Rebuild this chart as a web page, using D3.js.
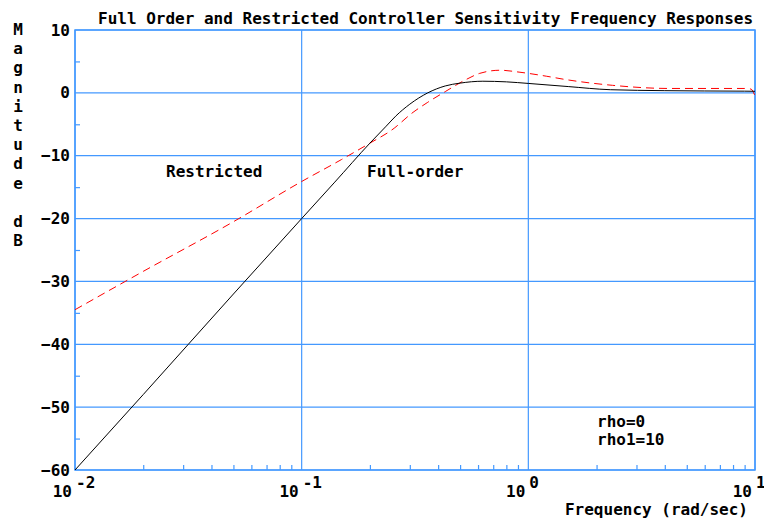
<!DOCTYPE html>
<html>
<head>
<meta charset="utf-8">
<script src="https://cdn.jsdelivr.net/npm/d3@7"></script>
<style>
body { margin: 0; background: #fff; }
text { font-family: "DejaVu Sans Mono", "Liberation Mono", monospace; font-weight: bold; font-size: 16px; fill: #000; }
</style>
</head>
<body>
<script>
// values
var freq = [0.01, 0.02, 0.05, 0.1, 0.14, 0.2, 0.236, 0.26, 0.3, 0.36, 0.43, 0.5, 0.63, 0.8, 1, 1.5, 2.3, 4, 6, 9, 10];
var fullOrder = [-60, -48, -32, -20, -14.2, -8.0, -5.3, -3.7, -1.8, 0, 1.1, 1.55, 1.85, 1.75, 1.5, 1.0, 0.5, 0.35, 0.3, 0.27, 0.25];

var freqR = [0.01, 0.02, 0.05, 0.1, 0.15, 0.2, 0.25, 0.31, 0.36, 0.43, 0.53, 0.61, 0.75, 0.91, 1, 1.2, 1.47, 2.35, 4.2, 9, 9.6, 10];
var restricted = [-34.5, -28.4, -20.5, -14.1, -10.6, -8.0, -5.9, -3.1, -1.5, 0.2, 2.1, 3.1, 3.6, 3.3, 3.1, 2.65, 2.1, 1.2, 0.7, 0.7, 0.6, -0.5];

var yTicks = [10, 0, -10, -20, -30, -40, -50, -60];
var yMinor = [5, -5, -15, -25, -35, -45, -55];
var xDecades = [0.01, 0.1, 1, 10];
var xExp = ["-2", "-1", "0", "1"];
var xMinor = [0.02, 0.03, 0.04, 0.05, 0.06, 0.07, 0.08, 0.09,
              0.2, 0.3, 0.4, 0.5, 0.6, 0.7, 0.8, 0.9,
              2, 3, 4, 5, 6, 7, 8, 9];
var yLabel = ["M", "a", "g", "n", "i", "t", "u", "d", "e", "", "d", "B"];

var width = 764, height = 523;
var plot = {left: 75, right: 755, top: 30, bottom: 470};
var gridColor = "#4499ff";

var svg = d3.select("body").append("svg")
    .attr("width", width)
    .attr("height", height);

var x = d3.scaleLog().domain([0.01, 10]).range([plot.left, plot.right]);
var y = d3.scaleLinear().domain([-60, 10]).range([plot.bottom, plot.top]);

// grid
svg.selectAll(".hgrid")
    .data(yTicks)
  .enter().append("line")
    .attr("class", "hgrid")
    .attr("x1", plot.left).attr("x2", plot.right)
    .attr("y1", function(d) { return y(d); })
    .attr("y2", function(d) { return y(d); })
    .attr("stroke", gridColor)
    .attr("stroke-width", 1.2);

svg.selectAll(".vgrid")
    .data(xDecades)
  .enter().append("line")
    .attr("class", "vgrid")
    .attr("x1", function(d) { return x(d); })
    .attr("x2", function(d) { return x(d); })
    .attr("y1", plot.top).attr("y2", plot.bottom)
    .attr("stroke", gridColor)
    .attr("stroke-width", 1.2);

svg.append("rect")
    .attr("x", plot.left).attr("y", plot.top)
    .attr("width", plot.right - plot.left).attr("height", plot.bottom - plot.top)
    .attr("fill", "none")
    .attr("stroke", gridColor)
    .attr("stroke-width", 1.5);

// minor ticks, pointing into the plot
var xAxis = d3.axisBottom(x).tickValues(xMinor).tickSize(-5).tickFormat("");
svg.append("g")
    .attr("transform", "translate(0," + plot.bottom + ")")
    .call(xAxis)
    .call(function(g) { g.select(".domain").remove(); })
    .selectAll("line").attr("stroke", gridColor).attr("stroke-width", 1.2);

var yAxisMinor = d3.axisLeft(y).tickValues(yMinor).tickSize(-5).tickFormat("");
svg.append("g")
    .attr("transform", "translate(" + plot.left + ",0)")
    .call(yAxisMinor)
    .call(function(g) { g.select(".domain").remove(); })
    .selectAll("line").attr("stroke", gridColor).attr("stroke-width", 1.2);

// y tick labels
var yAxis = d3.axisLeft(y).tickValues(yTicks).tickSize(0).tickPadding(5)
    .tickFormat(function(d) { return d < 0 ? "\u2212" + Math.abs(d) : d; });
svg.append("g")
    .attr("transform", "translate(" + plot.left + ",0)")
    .call(yAxis)
    .call(function(g) { g.select(".domain").remove(); })
    .selectAll("text")
    .attr("font-family", null).attr("font-size", null)
    .style("fill", "#000");

// x tick labels: 10 with exponent
var xl = svg.selectAll(".xlab")
    .data(xDecades)
  .enter().append("g")
    .attr("class", "xlab");
xl.append("text")
    .attr("x", function(d) { return x(d) - 3; })
    .attr("y", 497)
    .style("text-anchor", "end")
    .text("10");
xl.append("text")
    .attr("x", function(d) { return x(d) + 1; })
    .attr("y", 488)
    .style("text-anchor", "start")
    .text(function(d, i) { return xExp[i]; });

// curves
var line = d3.line()
    .curve(d3.curveMonotoneX)
    .x(function(d) { return x(d[0]); })
    .y(function(d) { return y(d[1]); });

svg.append("path")
    .datum(d3.zip(freqR, restricted))
    .attr("d", line)
    .attr("fill", "none")
    .attr("stroke", "#ff0000")
    .attr("stroke-width", 1)
    .attr("stroke-dasharray", "8,5");

svg.append("path")
    .datum(d3.zip(freq, fullOrder))
    .attr("d", line)
    .attr("fill", "none")
    .attr("stroke", "#000")
    .attr("stroke-width", 1);

// texts
svg.append("text")
    .attr("x", 98).attr("y", 24)
    .text("Full Order and Restricted Controller Sensitivity Frequency Responses");

svg.selectAll(".ylab")
    .data(yLabel)
  .enter().append("text")
    .attr("class", "ylab")
    .attr("x", 18)
    .attr("y", function(d, i) { return 35 + i * 19.2; })
    .style("text-anchor", "middle")
    .text(function(d) { return d; });

svg.append("text")
    .attr("x", 748).attr("y", 515)
    .style("text-anchor", "end")
    .text("Frequency (rad/sec)");

svg.append("text").attr("x", 166).attr("y", 177).text("Restricted");
svg.append("text").attr("x", 367).attr("y", 177).text("Full-order");
svg.append("text").attr("x", 597).attr("y", 427).text("rho=0");
svg.append("text").attr("x", 597).attr("y", 445).text("rho1=10");
</script>
</body>
</html>
